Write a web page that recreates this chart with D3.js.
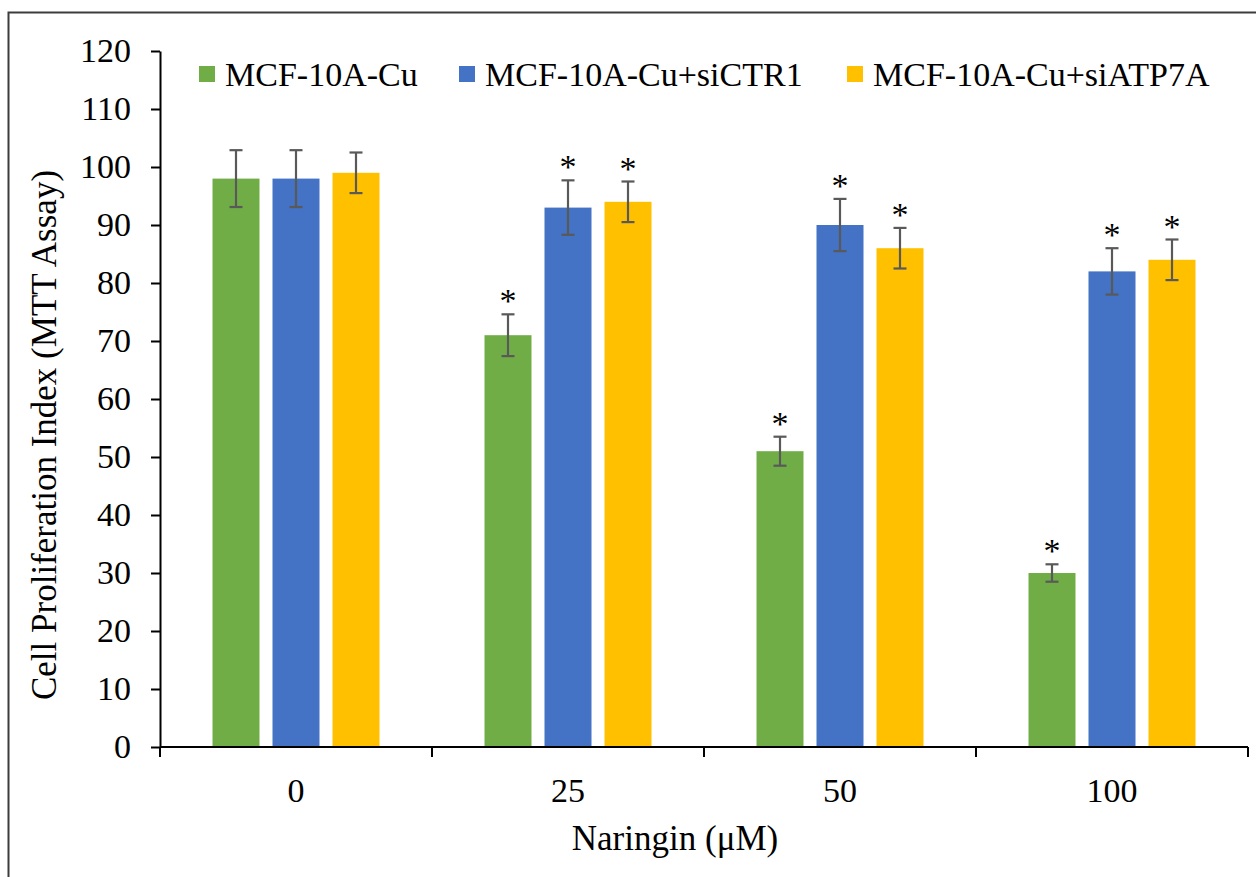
<!DOCTYPE html>
<html>
<head>
<meta charset="utf-8">
<script src="https://cdn.jsdelivr.net/npm/d3@7"></script>
<style>
  html, body { margin: 0; padding: 0; background: #fff; }
  svg { display: block; }
  text { font-family: "Liberation Serif", "Times New Roman", serif; fill: #000; }
</style>
</head>
<body>
<svg id="chart" width="1256" height="877"></svg>
<script>
// ---- data ----
const categories = ["0", "25", "50", "100"];
const seriesNames = ["MCF-10A-Cu", "MCF-10A-Cu+siCTR1", "MCF-10A-Cu+siATP7A"];
const seriesColors = ["#70AD47", "#4472C4", "#FFC000"];
const valuesCu = [98, 71, 51, 30];
const valuesSiCTR1 = [98, 93, 90, 82];
const valuesSiATP7A = [99, 94, 86, 84];
const errorsCu = [4.9, 3.6, 2.5, 1.5];
const errorsSiCTR1 = [4.9, 4.7, 4.5, 4.0];
const errorsSiATP7A = [3.5, 3.5, 3.5, 3.5];
const significantCu = [false, true, true, true];
const significantSiCTR1 = [false, true, true, true];
const significantSiATP7A = [false, true, true, true];
const yTicks = [0, 10, 20, 30, 40, 50, 60, 70, 80, 90, 100, 110, 120];
const yTitle = "Cell Proliferation Index (MTT Assay)";
const xTitle = "Naringin (\u03BCM)";

(function () {
const seriesValues = [valuesCu, valuesSiCTR1, valuesSiATP7A];
const seriesErrors = [errorsCu, errorsSiCTR1, errorsSiATP7A];
const seriesSig = [significantCu, significantSiCTR1, significantSiATP7A];

const rows = [];
categories.forEach((c, ci) => {
  seriesNames.forEach((s, si) => {
    rows.push({cat: c, series: s, si, value: seriesValues[si][ci], err: seriesErrors[si][ci], sig: seriesSig[si][ci]});
  });
});

// ---- layout ----
const svg = d3.select("#chart");
const mLeft = 160, mRight = 1248, mTop = 51, mBottom = 747;
const fontSize = 34;

svg.append("rect").attr("width", 1256).attr("height", 877).attr("fill", "#fff");
svg.append("rect")
  .attr("x", 8.5).attr("y", 12.5).attr("width", 1400).attr("height", 1000)
  .attr("fill", "none").attr("stroke", "#3c3c3c").attr("stroke-width", 2);

const y = d3.scaleLinear().domain([0, 120]).range([mBottom, mTop]);
const x0 = d3.scaleBand().domain(categories).range([mLeft, mRight]).padding(0);
const x1 = d3.scaleBand().domain(seriesNames).range([0, x0.bandwidth()])
  .paddingInner(13 / 60).paddingOuter(0.875);
const color = d3.scaleOrdinal().domain(seriesNames).range(seriesColors);

// bars
svg.append("g").selectAll("rect").data(rows).join("rect")
  .attr("x", d => x0(d.cat) + x1(d.series))
  .attr("y", d => y(d.value))
  .attr("width", x1.bandwidth())
  .attr("height", d => y(0) - y(d.value))
  .attr("fill", d => color(d.series));

// error bars
const eg = svg.append("g").attr("stroke", "#595959").attr("stroke-width", 2.2);
rows.forEach(d => {
  const cx = x0(d.cat) + x1(d.series) + x1.bandwidth() / 2;
  eg.append("line").attr("x1", cx).attr("x2", cx).attr("y1", y(d.value - d.err)).attr("y2", y(d.value + d.err));
  [d.value - d.err, d.value + d.err].forEach(v => {
    eg.append("line").attr("x1", cx - 6.5).attr("x2", cx + 6.5).attr("y1", y(v)).attr("y2", y(v));
  });
});

// asterisks
svg.append("g").selectAll("text").data(rows.filter(d => d.sig)).join("text")
  .attr("x", d => x0(d.cat) + x1(d.series) + x1.bandwidth() / 2)
  .attr("y", d => y(d.value + d.err) - 2)
  .attr("text-anchor", "middle")
  .style("font-size", fontSize + "px")
  .text("*");

// y axis
const yAxis = d3.axisLeft(y).tickValues(yTicks).tickSize(9).tickPadding(20).tickSizeOuter(0);
const yg = svg.append("g").attr("transform", `translate(${mLeft},0)`).call(yAxis);
yg.select(".domain").attr("stroke", "#000").attr("stroke-width", 2);
yg.selectAll(".tick line").attr("stroke", "#000").attr("stroke-width", 2);
yg.selectAll(".tick text").style("font-size", fontSize + "px").style("font-family", "Liberation Serif").attr("fill", "#000");

// x axis: line and boundary ticks
const xg = svg.append("g");
xg.append("line").attr("x1", mLeft).attr("x2", mRight).attr("y1", mBottom).attr("y2", mBottom)
  .attr("stroke", "#000").attr("stroke-width", 2);
const boundaries = categories.map(c => x0(c)).concat([x0(categories[categories.length - 1]) + x0.bandwidth()]);
xg.selectAll("line.b").data(boundaries).join("line").attr("class", "b")
  .attr("x1", d => d).attr("x2", d => d).attr("y1", mBottom).attr("y2", mBottom + 10)
  .attr("stroke", "#000").attr("stroke-width", 2);
xg.selectAll("text").data(categories).join("text")
  .attr("x", d => x0(d) + x0.bandwidth() / 2)
  .attr("y", 802)
  .attr("text-anchor", "middle")
  .style("font-size", fontSize + "px")
  .text(d => d);

// axis titles
svg.append("text")
  .attr("transform", `translate(56,${(mTop + mBottom) / 2 + 36}) rotate(-90)`)
  .attr("text-anchor", "middle")
  .style("font-size", "35px")
  .text(yTitle);
svg.append("text")
  .attr("x", 675).attr("y", 850)
  .attr("text-anchor", "middle")
  .style("font-size", "35px")
  .text(xTitle);

// legend
const legendX = [199, 459, 847];
const lg = svg.append("g");
seriesNames.forEach((s, i) => {
  lg.append("rect").attr("x", legendX[i]).attr("y", 66).attr("width", 16).attr("height", 16).attr("fill", seriesColors[i]);
  lg.append("text").attr("x", legendX[i] + 26).attr("y", 86).style("font-size", fontSize + "px").text(s);
});
})();
</script>
</body>
</html>
